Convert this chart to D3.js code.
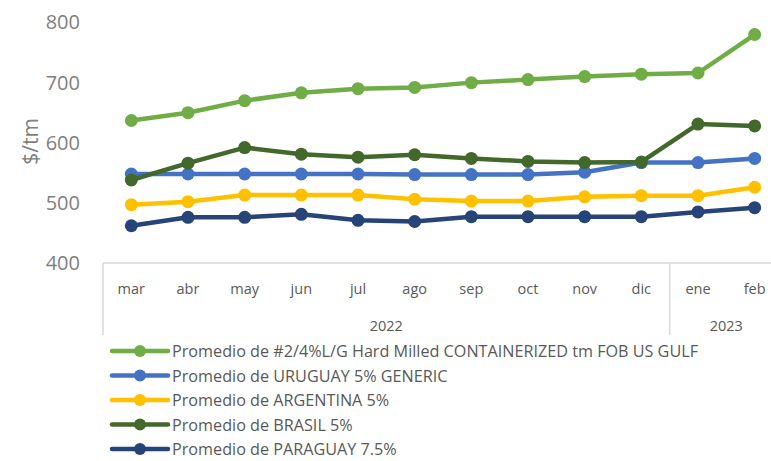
<!DOCTYPE html>
<html>
<head>
<meta charset="utf-8">
<script src="https://cdn.jsdelivr.net/npm/d3@7"></script>
<style>
  body { margin: 0; background: #fff; }
  svg { display: block; font-family: "Open Sans", sans-serif; }
</style>
</head>
<body>
<div id="chart"></div>
<script>
// data
const months = ['mar', 'abr', 'may', 'jun', 'jul', 'ago', 'sep', 'oct', 'nov', 'dic', 'ene', 'feb'];
const years = [
  { label: '2022', from: 'mar', to: 'dic' },
  { label: '2023', from: 'ene', to: 'feb' }
];
const yTickValues = [400, 500, 600, 700, 800];

const usGulf = [637, 650, 670, 683, 690, 692, 700, 705, 710, 714, 716, 780];
const uruguay = [548, 548, 548, 548, 548, 547, 547, 547, 551, 567, 567, 574];
const argentina = [497, 502, 513, 513, 513, 506, 503, 503, 510, 512, 512, 526];
const brasil = [538, 566, 592, 581, 576, 580, 574, 569, 567, 568, 631, 628];
const paraguay = [462, 476, 476, 481, 471, 469, 477, 477, 477, 477, 485, 492];

const seriesNames = [
  'Promedio de #2/4%L/G Hard Milled CONTAINERIZED tm FOB US GULF',
  'Promedio de URUGUAY 5% GENERIC',
  'Promedio de ARGENTINA 5%',
  'Promedio de BRASIL 5%',
  'Promedio de PARAGUAY 7.5%'
];
const seriesValues = [usGulf, uruguay, argentina, brasil, paraguay];
const colours = ['#70AD47', '#4472C4', '#FFC000', '#43682B', '#264478'];

const width = 771, height = 461;
const axisColour = '#d9d9d9';
const textColour = '#595959';

const svg = d3.select('#chart')
  .append('svg')
  .attr('width', width)
  .attr('height', height);

const x = d3.scaleBand()
  .domain(months)
  .range([103, 783])
  .paddingInner(0)
  .paddingOuter(0);

const y = d3.scaleLinear()
  .domain([400, 800])
  .range([263, 22.5]);

const xc = d => x(d) + x.bandwidth() / 2;

// y axis labels, no line
svg.append('g')
  .attr('transform', 'translate(80,0)')
  .call(d3.axisLeft(y).tickValues(yTickValues).tickSize(0).tickPadding(0))
  .call(g => g.select('.domain').remove())
  .call(g => g.selectAll('text')
    .attr('fill', '#7f7f7f')
    .attr('font-size', 20)
    .attr('font-family', '"Open Sans", sans-serif'));

svg.append('text')
  .attr('transform', 'translate(30,141.5) rotate(-90)')
  .attr('text-anchor', 'middle')
  .attr('dominant-baseline', 'central')
  .attr('fill', '#7f7f7f')
  .attr('font-size', 21)
  .text('$/tm');

// multi-level category axis
const axisG = svg.append('g');
axisG.append('line')
  .attr('x1', x.range()[0]).attr('x2', x.range()[1])
  .attr('y1', y(400)).attr('y2', y(400))
  .attr('stroke', axisColour).attr('stroke-width', 1.5);

const dividers = [x.range()[0]].concat(years.slice(1).map(yr => x(yr.from)));
axisG.selectAll('.divider')
  .data(dividers)
  .join('line')
  .attr('class', 'divider')
  .attr('x1', d => d).attr('x2', d => d)
  .attr('y1', y(400)).attr('y2', 335)
  .attr('stroke', axisColour).attr('stroke-width', 1.5);

axisG.selectAll('.month')
  .data(months)
  .join('text')
  .attr('class', 'month')
  .attr('x', d => xc(d))
  .attr('y', 288)
  .attr('text-anchor', 'middle')
  .attr('dominant-baseline', 'central')
  .attr('fill', textColour)
  .attr('font-size', 14.5)
  .text(d => d);

axisG.selectAll('.year')
  .data(years)
  .join('text')
  .attr('class', 'year')
  .attr('x', d => (x(d.from) + x(d.to) + x.bandwidth()) / 2)
  .attr('y', 325)
  .attr('text-anchor', 'middle')
  .attr('dominant-baseline', 'central')
  .attr('fill', textColour)
  .attr('font-size', 14.5)
  .text(d => d.label);

// series
const line = d3.line()
  .x((d, i) => xc(months[i]))
  .y(d => y(d));

seriesValues.forEach((vals, i) => {
  const g = svg.append('g').attr('class', 'series');
  g.append('path')
    .datum(vals)
    .attr('fill', 'none')
    .attr('stroke', colours[i])
    .attr('stroke-width', 4.5)
    .attr('stroke-linejoin', 'round')
    .attr('d', line);
  g.selectAll('circle')
    .data(vals)
    .join('circle')
    .attr('cx', (d, j) => xc(months[j]))
    .attr('cy', d => y(d))
    .attr('r', 6.5)
    .attr('fill', colours[i]);
});

// legend (last row pulled up a touch so it is not clipped)
const legend = svg.append('g');
const legendRowY = d3.scalePoint()
  .domain(seriesNames)
  .range([351, 449]);

seriesNames.forEach((name, i) => {
  const ly = legendRowY(name);
  legend.append('line')
    .attr('x1', 112).attr('x2', 168)
    .attr('y1', ly).attr('y2', ly)
    .attr('stroke', colours[i])
    .attr('stroke-width', 4.5)
    .attr('stroke-linecap', 'round');
  legend.append('circle')
    .attr('cx', 140).attr('cy', ly)
    .attr('r', 6)
    .attr('fill', colours[i]);
  legend.append('text')
    .attr('x', 172)
    .attr('y', ly)
    .attr('dominant-baseline', 'central')
    .attr('fill', textColour)
    .attr('font-size', 16.2)
    .text(name);
});
</script>
</body>
</html>
